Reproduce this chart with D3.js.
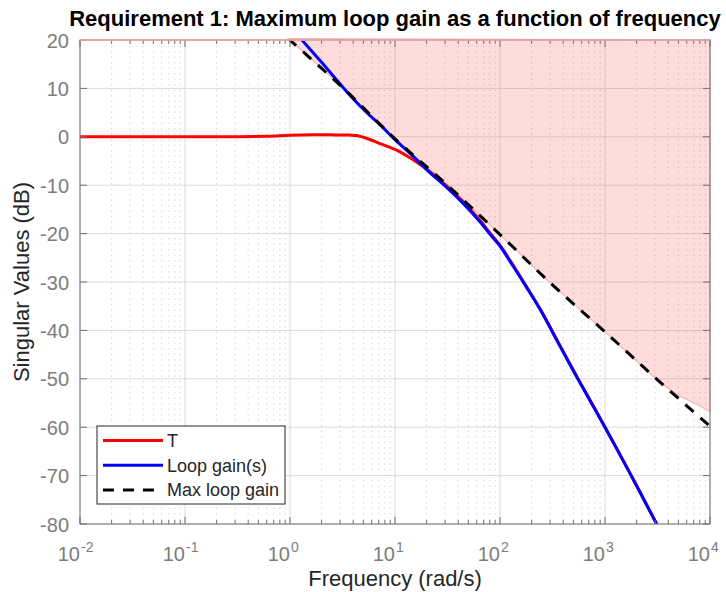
<!DOCTYPE html>
<html>
<head>
<meta charset="utf-8">
<script src="https://cdn.jsdelivr.net/npm/d3@7"></script>
<style>
  body { margin: 0; background: #fff; }
  svg { display: block; }
  text { font-family: "Liberation Sans", Arial, Helvetica, sans-serif; }
</style>
</head>
<body>
<svg width="726" height="592"></svg>
<script>
// ---- data ----
var xTicks = [1e-2, 1e-1, 1, 10, 100, 1e3, 1e4];
var xTickExp = ["-2", "-1", "0", "1", "2", "3", "4"];
var yTicks = [-80, -70, -60, -50, -40, -30, -20, -10, 0, 10, 20];

// T (red)
var freqT = [0.01, 0.1, 0.3, 0.6, 1, 1.6, 2.5, 3.7, 4.3, 5.5, 7.2, 10.7, 15, 21.5, 31.6, 44.8, 63, 80, 100, 134, 178, 240, 372, 557, 1000, 1778, 3105];
var magT  = [0, 0, 0.02, 0.1, 0.3, 0.4, 0.4, 0.35, 0.25, -0.4, -1.4, -2.9, -4.8, -7.2, -10.3, -13.5, -17.0, -19.8, -22.4, -26.6, -30.9, -35.5, -43.1, -50.1, -60.0, -70.0, -80.0];

// Loop gain (blue)
var freqL = [1.3, 2.0, 3.72, 5.62, 7.2, 10, 15, 21.5, 31.6, 44.8, 63, 80, 100, 134, 178, 240, 372, 557, 1000, 1778, 3105];
var magL  = [20, 15.4, 8.6, 4.6, 2.5, -0.6, -4.1, -7.4, -10.6, -13.8, -17.3, -20.1, -22.6, -26.8, -31.0, -35.6, -43.2, -50.2, -60.0, -70.0, -80.0];

// Max loop gain (dashed)
var freqMax = [0.96, 3.16, 10, 31.6, 100, 316, 1000, 3162, 10000];
var magMax  = [20.3, 10.2, -0.4, -10.0, -20.2, -30.6, -40.3, -50.2, -59.8];

// edge of the shaded (forbidden) region
var freqFill = [0.96, 3.16, 10, 31.6, 100, 316, 1000, 3162, 5012, 7079, 10000];
var magFill  = [20.3, 10.2, -0.4, -10.0, -20.2, -30.6, -40.3, -50.2, -53.4, -55.0, -56.8];

var legendItems = [
  { label: "T", color: "#ff0000", dash: null },
  { label: "Loop gain(s)", color: "#0000ff", dash: null },
  { label: "Max loop gain", color: "#000000", dash: "11,9" }
];

// ---- layout ----
var pLeft = 80, pRight = 710, pTop = 40, pBottom = 524;
var axisColor = "#707070", tickText = "#7c7c7c";

var svg = d3.select("svg");

var x = d3.scaleLog().domain([1e-2, 1e4]).range([pLeft, pRight]);
var y = d3.scaleLinear().domain([-80, 20]).range([pBottom, pTop]);

svg.append("defs").append("clipPath").attr("id", "plotclip")
  .append("rect").attr("x", pLeft).attr("y", pTop)
  .attr("width", pRight - pLeft).attr("height", pBottom - pTop);

// minor x values 2..9 per decade
var minorX = [];
for (var e = -2; e < 4; e++) {
  for (var m = 2; m <= 9; m++) minorX.push(m * Math.pow(10, e));
}

var grid = svg.append("g");
grid.selectAll(".minor").data(minorX).enter().append("line")
  .attr("x1", function(d) { return x(d); }).attr("x2", function(d) { return x(d); })
  .attr("y1", pTop).attr("y2", pBottom)
  .attr("stroke", "#d6d6d6").attr("stroke-width", 1)
  .attr("stroke-dasharray", "1.5,4");
grid.selectAll(".majx").data(xTicks).enter().append("line")
  .attr("x1", function(d) { return x(d); }).attr("x2", function(d) { return x(d); })
  .attr("y1", pTop).attr("y2", pBottom)
  .attr("stroke", "#dcdcdc").attr("stroke-width", 1);
grid.selectAll(".majy").data(yTicks).enter().append("line")
  .attr("x1", pLeft).attr("x2", pRight)
  .attr("y1", function(d) { return y(d); }).attr("y2", function(d) { return y(d); })
  .attr("stroke", "#dcdcdc").attr("stroke-width", 1);

var line = d3.line()
  .x(function(d) { return x(d[0]); })
  .y(function(d) { return y(d[1]); })
  .curve(d3.curveCatmullRom.alpha(0.5));

function zip(a, b) { return a.map(function(v, i) { return [v, b[i]]; }); }

// shaded region above the max loop gain
var fillPts = zip(freqFill, magFill);
svg.append("path")
  .attr("d", line(fillPts) + "L" + x(1e4) + "," + y(20) + "Z")
  .attr("fill", "#ff3c3c").attr("fill-opacity", 0.18)
  .attr("stroke", "#f8b4b4").attr("stroke-width", 1.2);

var plot = svg.append("g").attr("clip-path", "url(#plotclip)");

plot.append("path").datum(zip(freqT, magT)).attr("d", line)
  .attr("fill", "none").attr("stroke", "#ff0000").attr("stroke-width", 3);
plot.append("path").datum(zip(freqL, magL)).attr("d", line)
  .attr("fill", "none").attr("stroke", "#0000ff").attr("stroke-width", 3);
plot.append("path").datum(zip(freqMax, magMax)).attr("d", line)
  .attr("fill", "none").attr("stroke", "#000").attr("stroke-width", 3)
  .attr("stroke-dasharray", "11,9");

// ---- axes box and ticks ----
var ax = svg.append("g").attr("stroke", axisColor).attr("stroke-width", 1);
ax.append("rect").attr("x", pLeft).attr("y", pTop)
  .attr("width", pRight - pLeft).attr("height", pBottom - pTop).attr("fill", "none");
// pink edge along the top of the box (patch border)
svg.append("line").attr("x1", pLeft).attr("x2", pRight).attr("y1", pTop).attr("y2", pTop)
  .attr("stroke", "#f6a9a9").attr("stroke-width", 1.5);

xTicks.forEach(function(t) {
  ax.append("line").attr("x1", x(t)).attr("x2", x(t)).attr("y1", pBottom).attr("y2", pBottom - 7);
  ax.append("line").attr("x1", x(t)).attr("x2", x(t)).attr("y1", pTop).attr("y2", pTop + 7);
});
minorX.forEach(function(t) {
  ax.append("line").attr("x1", x(t)).attr("x2", x(t)).attr("y1", pBottom).attr("y2", pBottom - 4);
  ax.append("line").attr("x1", x(t)).attr("x2", x(t)).attr("y1", pTop).attr("y2", pTop + 4);
});
yTicks.forEach(function(t) {
  ax.append("line").attr("x1", pLeft).attr("x2", pLeft + 7).attr("y1", y(t)).attr("y2", y(t));
  ax.append("line").attr("x1", pRight).attr("x2", pRight - 7).attr("y1", y(t)).attr("y2", y(t));
});

// tick labels
svg.selectAll(".ylab").data(yTicks).enter().append("text")
  .attr("x", pLeft - 11).attr("y", function(d) { return y(d) + 7.5; })
  .attr("text-anchor", "end").attr("font-size", 20).attr("fill", tickText)
  .text(function(d) { return d; });

xTicks.forEach(function(t, i) {
  svg.append("text").attr("x", x(t) + 0).attr("y", 561)
    .attr("text-anchor", "end").attr("font-size", 20).attr("fill", tickText)
    .text("10");
  svg.append("text").attr("x", x(t) + 1).attr("y", 552)
    .attr("font-size", 14).attr("fill", tickText)
    .text(xTickExp[i]);
});

// axis titles
svg.append("text").attr("x", (pLeft + pRight) / 2).attr("y", 586)
  .attr("text-anchor", "middle").attr("font-size", 22).attr("fill", "#262626")
  .text("Frequency (rad/s)");
svg.append("text")
  .attr("transform", "translate(29," + ((pTop + pBottom) / 2) + ") rotate(-90)")
  .attr("text-anchor", "middle").attr("font-size", 22).attr("fill", "#262626")
  .text("Singular Values (dB)");
svg.append("text").attr("x", (pLeft + pRight) / 2).attr("y", 26)
  .attr("text-anchor", "middle").attr("font-size", 22).attr("font-weight", "bold")
  .attr("fill", "#000")
  .text("Requirement 1: Maximum loop gain as a function of frequency");

// ---- legend ----
var lg = svg.append("g");
lg.append("rect").attr("x", 97).attr("y", 426).attr("width", 188).attr("height", 78)
  .attr("fill", "#fff").attr("stroke", "#262626").attr("stroke-width", 1);
legendItems.forEach(function(it, i) {
  var ly = 440.5 + i * 24.7;
  lg.append("line").attr("x1", 103).attr("x2", 163).attr("y1", ly).attr("y2", ly)
    .attr("stroke", it.color).attr("stroke-width", 3)
    .attr("stroke-dasharray", it.dash);
  lg.append("text").attr("x", 167).attr("y", ly + 6.5)
    .attr("font-size", 18).attr("fill", "#262626").text(it.label);
});
</script>
</body>
</html>
